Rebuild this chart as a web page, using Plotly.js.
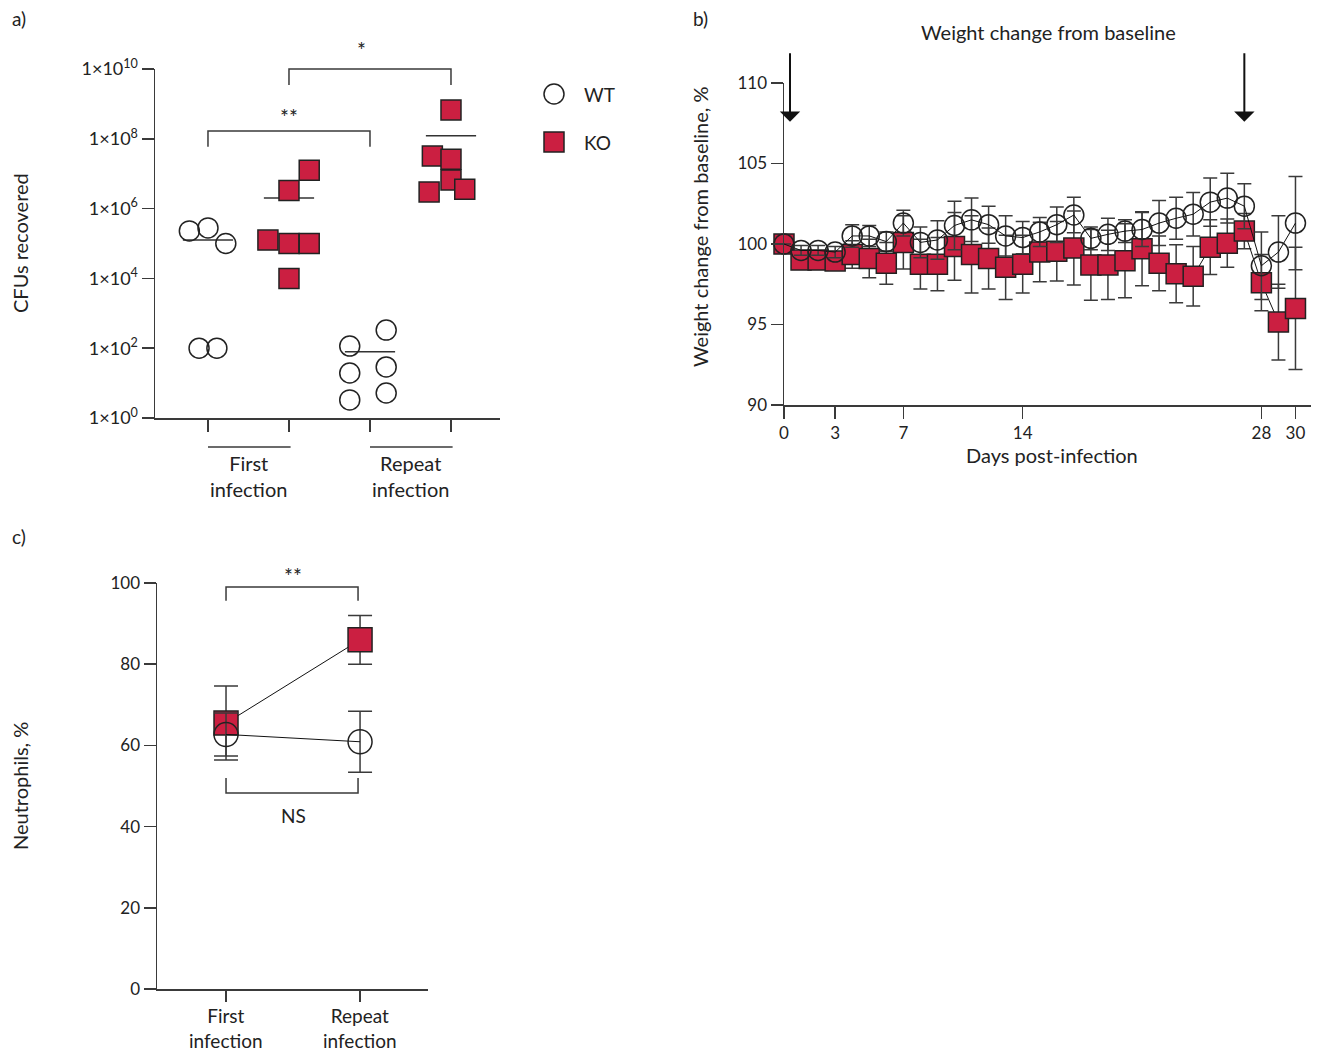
<!DOCTYPE html>
<html><head><meta charset="utf-8">
<script src="https://cdn.plot.ly/plotly-3.0.1.min.js"></script>
<style>html,body{margin:0;padding:0;background:#fff}</style>
</head><body><div id="chart" style="width:1334px;height:1053px"></div>
<script>
// ================= DATA =================
// Panel a: CFUs recovered (individual animals) and group means
const cfuGroups = ['First<br>infection', 'Repeat<br>infection'];
const cfuWTFirst  = [2.3e5, 2.8e5, 1.0e5, 100, 100];
const cfuKOFirst  = [3.3e6, 1.25e7, 1.25e5, 1.0e5, 1.0e5, 1.0e4];
const cfuWTRepeat = [115, 19.5, 3.3, 330, 29, 5.2];
const cfuKORepeat = [6.7e8, 3.2e7, 2.6e7, 6.6e6, 3.0e6, 3.6e6];
const cfuMeanWT = [1.26e5, 79];      // first, repeat
const cfuMeanKO = [2.0e6, 1.23e8];   // first, repeat
const cfuExponents = [0, 2, 4, 6, 8, 10];

// Panel b: weight change from baseline (%), mean and error
const days = [0,1,2,3,4,5,6,7,8,9,10,11,12,13,14,15,16,17,18,19,20,21,22,23,24,25,26,27,28,29,30];
const wtWeight = [100, 99.6, 99.6, 99.5, 100.5, 100.5, 100.15, 101.3, 100.1, 100.25, 101.15, 101.5, 101.2, 100.5, 100.4, 100.75, 101.2, 101.8, 100.35, 100.6, 100.8, 100.9, 101.3, 101.6, 101.85, 102.6, 102.85, 102.35, 98.65, 99.5, 101.3];
const wtWeightErr = [0, 0.3, 0.3, 0.35, 0.7, 0.65, 0.6, 0.8, 0.95, 1.2, 1.5, 1.35, 1.15, 1.25, 1.0, 0.9, 1.1, 1.1, 0.7, 1.0, 0.7, 1.05, 1.4, 1.3, 1.35, 1.5, 1.55, 1.4, 2.1, 2.25, 2.9];
const koWeight = [100, 99.0, 99.0, 98.95, 99.35, 99.1, 98.8, 100.1, 98.75, 98.75, 99.85, 99.35, 99.1, 98.55, 98.75, 99.5, 99.55, 99.75, 98.7, 98.7, 98.96, 99.7, 98.8, 98.15, 98.0, 99.8, 100.05, 100.8, 97.6, 95.15, 96.0];
const koWeightErr = [0, 0.4, 0.4, 0.5, 0.85, 1.2, 1.3, 1.65, 1.55, 1.65, 2.1, 2.4, 1.9, 2.0, 1.8, 1.85, 1.85, 2.3, 2.2, 2.15, 2.3, 2.3, 1.7, 1.8, 1.85, 1.7, 1.5, 1.1, 1.75, 2.35, 3.8];
const dayTicks = [0, 3, 7, 14, 28, 30];
const infectionDays = [0, 27];

// Panel c: neutrophils (%), mean and error
const neutGroups = ['First<br>infection', 'Repeat<br>infection'];
const wtNeut = [62.7, 60.9];
const wtNeutErr = [5.3, 7.5];
const koNeut = [65.5, 86.0];
const koNeutErr = [9.1, 6.0];

// ================= STYLE / LAYOUT =================
const W = 1334, H = 1053;
const px = x => x / W, py = y => 1 - y / H;
const RED = '#CB1F41', INK = '#222', AX = '#3a3a3a';
const FONT = 'Lato, "Open Sans", sans-serif';

// horizontal spread of dots within a column (category units), per group
const spreadWTFirst  = [-0.23, 0, 0.22, -0.11, 0.11];
const spreadKOFirst  = [0, 0.25, -0.26, 0, 0.25, 0];
const spreadWTRepeat = [-0.25, -0.25, -0.25, 0.2, 0.2, 0.2];
const spreadKORepeat = [0, -0.23, 0, 0, -0.27, 0.17];

const domA = {x:[px(155), px(500)], y:[py(418), py(69)]};
const rngAx = [-0.654, 3.605], rngAy = [0, 10];
const domB = {x:[px(784), px(1311)], y:[py(405), py(83)]};
const rngBx = [0, 30.91], rngBy = [90, 110];
const domC = {x:[px(157), px(428)], y:[py(989), py(583)]};
const rngCx = [-0.515, 1.507], rngCy = [0, 100];

function map(dom, rng, log) {
  return v => { const t = log ? Math.log10(v) : v; return dom[0] + (t - rng[0]) / (rng[1] - rng[0]) * (dom[1] - dom[0]); };
}
const aX = map(domA.x, rngAx, false), aY = map(domA.y, rngAy, true);
const cX = map(domC.x, rngCx, false), cY = map(domC.y, rngCy, false);

function baseAxis(extra) {
  return Object.assign({
    showline: true, linecolor: AX, linewidth: 1.5, ticks: 'outside', tickcolor: AX, tickwidth: 1.5,
    showgrid: false, zeroline: false, fixedrange: true,
    tickfont: {family: FONT, size: 17, color: INK}
  }, extra);
}

// column positions: WT first 0, KO first 1, WT repeat 2, KO repeat 3
const posWT = [0, 2], posKO = [1, 3];

const traces = [];
// ---- panel a ----
const koX = [], koY = [], wtX = [], wtY = [];
cfuKOFirst.forEach((v, i) => { koX.push(posKO[0] + spreadKOFirst[i]); koY.push(v); });
cfuKORepeat.forEach((v, i) => { koX.push(posKO[1] + spreadKORepeat[i]); koY.push(v); });
cfuWTFirst.forEach((v, i) => { wtX.push(posWT[0] + spreadWTFirst[i]); wtY.push(v); });
cfuWTRepeat.forEach((v, i) => { wtX.push(posWT[1] + spreadWTRepeat[i]); wtY.push(v); });

const meanX = [], meanY = [];
[[posWT, cfuMeanWT], [posKO, cfuMeanKO]].forEach(([pos, m]) => {
  pos.forEach((p, i) => { meanX.push(p - 0.31, p + 0.31, null); meanY.push(m[i], m[i], null); });
});
traces.push({x: meanX, y: meanY, xaxis: 'x', yaxis: 'y', mode: 'lines', line: {color: '#333', width: 1.5}, hoverinfo: 'skip', showlegend: false});
traces.push({x: koX, y: koY, xaxis: 'x', yaxis: 'y', mode: 'markers', name: 'KO', cliponaxis: false,
  marker: {symbol: 'square', size: 20, color: RED, line: {color: INK, width: 1.5}}, showlegend: false});
traces.push({x: wtX, y: wtY, xaxis: 'x', yaxis: 'y', mode: 'markers', name: 'WT', cliponaxis: false,
  marker: {symbol: 'circle', size: 20, color: 'rgba(0,0,0,0)', line: {color: INK, width: 1.5}}, showlegend: false});

// ---- panel b ----
traces.push({x: days, y: koWeight, xaxis: 'x2', yaxis: 'y2', mode: 'lines+markers', name: 'KO', cliponaxis: false,
  line: {color: '#111', width: 1},
  marker: {symbol: 'square', size: 20, color: RED, line: {color: INK, width: 1.5}},
  error_y: {type: 'data', array: koWeightErr, color: AX, thickness: 1.5, width: 7}, showlegend: false});
traces.push({x: days, y: wtWeight, xaxis: 'x2', yaxis: 'y2', mode: 'lines+markers', name: 'WT', cliponaxis: false,
  line: {color: '#111', width: 1},
  marker: {symbol: 'circle', size: 20, color: 'rgba(0,0,0,0)', line: {color: INK, width: 1.5}},
  error_y: {type: 'data', array: wtWeightErr, color: AX, thickness: 1.5, width: 7}, showlegend: false});

// ---- panel c ----
traces.push({x: [0, 1], y: koNeut, xaxis: 'x3', yaxis: 'y3', mode: 'lines+markers', name: 'KO', cliponaxis: false,
  line: {color: '#111', width: 1},
  marker: {symbol: 'square', size: 24, color: RED, line: {color: INK, width: 1.5}},
  error_y: {type: 'data', array: koNeutErr, color: AX, thickness: 1.5, width: 12}, showlegend: false});
traces.push({x: [0, 1], y: wtNeut, xaxis: 'x3', yaxis: 'y3', mode: 'lines+markers', name: 'WT', cliponaxis: false,
  line: {color: '#111', width: 1},
  marker: {symbol: 'circle', size: 24, color: 'rgba(0,0,0,0)', line: {color: INK, width: 1.5}},
  error_y: {type: 'data', array: wtNeutErr, color: AX, thickness: 1.5, width: 12}, showlegend: false});

// ---- shapes ----
const shapes = [];
function bracket(x0, x1, yTop, yLeg) {
  shapes.push({type: 'path', xref: 'paper', yref: 'paper',
    path: `M ${x0},${yLeg} L ${x0},${yTop} L ${x1},${yTop} L ${x1},${yLeg}`,
    line: {color: AX, width: 1.5}});
}
// panel a brackets
bracket(aX(0), aX(2), aY(10 ** 8.22), aY(10 ** 7.77));
bracket(aX(1), aX(3), aY(1e10), aY(10 ** 9.54));
// panel c brackets
bracket(cX(0), cX(0.985), cY(99.0), cY(95.6));
bracket(cX(0), cX(0.985), cY(48.3), cY(52.0));
// panel a group underlines
[[0, 1.02], [2, 3.02]].forEach(([a, b]) => shapes.push({type: 'line', xref: 'paper', yref: 'paper',
  x0: aX(a), x1: aX(b), y0: py(447), y1: py(447), line: {color: AX, width: 1.5}}));
// legend symbols
shapes.push({type: 'circle', xref: 'paper', yref: 'paper', x0: px(544), x1: px(564), y0: py(104), y1: py(84), line: {color: INK, width: 1.5}});
shapes.push({type: 'rect', xref: 'paper', yref: 'paper', x0: px(544), x1: px(564), y0: py(152), y1: py(132), fillcolor: RED, line: {color: INK, width: 1.5}});

// ---- annotations ----
const ann = [];
function txt(x, y, text, size, opts) {
  ann.push(Object.assign({xref: 'paper', yref: 'paper', x: x, y: y, text: text, showarrow: false,
    font: {family: FONT, size: size, color: INK}, xanchor: 'center', yanchor: 'middle'}, opts || {}));
}
txt(px(19), py(19), 'a)', 19);
txt(px(701), py(19), 'b)', 19);
txt(px(19), py(536), 'c)', 19);
txt(px(1048), py(32), 'Weight change from baseline', 20);
txt(px(20), py(243), 'CFUs recovered', 20, {textangle: -90});
txt(px(700), py(227), 'Weight change from baseline, %', 20, {textangle: -90});
txt(px(1052), py(455), 'Days post-infection', 20);
txt(px(20), py(786), 'Neutrophils, %', 20, {textangle: -90});
// significance labels
txt(aX(1), py(116), '**', 21);
txt(aX(1.9), py(49), '*', 21);
txt(cX(0.5), py(575), '**', 21);
txt(cX(0.5), py(815), 'NS', 19);
// group labels panel a
txt(aX(0.5), py(476), cfuGroups[0], 20);
txt(aX(2.5), py(476), cfuGroups[1], 20);
// group labels panel c
txt(cX(0), py(1028), neutGroups[0], 19);
txt(cX(1), py(1028), neutGroups[1], 19);
// legend text
txt(px(582), py(94), 'WT', 19, {xanchor: 'left'});
txt(px(582), py(142), 'KO', 19, {xanchor: 'left'});
// infection arrows (panel b)
infectionDays.forEach((d, i) => ann.push({xref: 'x2', yref: 'y2', x: d, y: 107.6, xshift: i === 0 ? 6 : 0,
  ax: 0, ay: -70, text: '', showarrow: true, arrowhead: 1, arrowsize: 1.7, arrowwidth: 2, arrowcolor: '#111', standoff: 0}));

const layout = {
  width: W, height: H, margin: {l: 0, r: 0, t: 0, b: 0}, paper_bgcolor: '#fff', plot_bgcolor: 'rgba(0,0,0,0)',
  showlegend: false, font: {family: FONT, color: INK},
  xaxis: baseAxis({domain: domA.x, range: rngAx, anchor: 'y', tickvals: [0, 1, 2, 3], showticklabels: false, ticklen: 12}),
  yaxis: baseAxis({domain: domA.y, range: rngAy, anchor: 'x', type: 'log', ticklen: 12,
    tickfont: {family: FONT, size: 18, color: INK},
    tickvals: cfuExponents.map(e => 10 ** e), ticktext: cfuExponents.map(e => '1×10<sup>' + e + '</sup>')}),
  xaxis2: baseAxis({domain: domB.x, range: rngBx, anchor: 'y2', tickvals: dayTicks, ticklen: 12}),
  yaxis2: baseAxis({domain: domB.y, range: rngBy, anchor: 'x2', tickvals: [90, 95, 100, 105, 110], ticklen: 12}),
  xaxis3: baseAxis({domain: domC.x, range: rngCx, anchor: 'y3', tickvals: [0, 1], showticklabels: false, ticklen: 11}),
  yaxis3: baseAxis({domain: domC.y, range: rngCy, anchor: 'x3', tickvals: [0, 20, 40, 60, 80, 100], ticklen: 12}),
  shapes: shapes, annotations: ann
};

Plotly.newPlot('chart', traces, layout, {staticPlot: true, displayModeBar: false});
</script>
</body></html>
